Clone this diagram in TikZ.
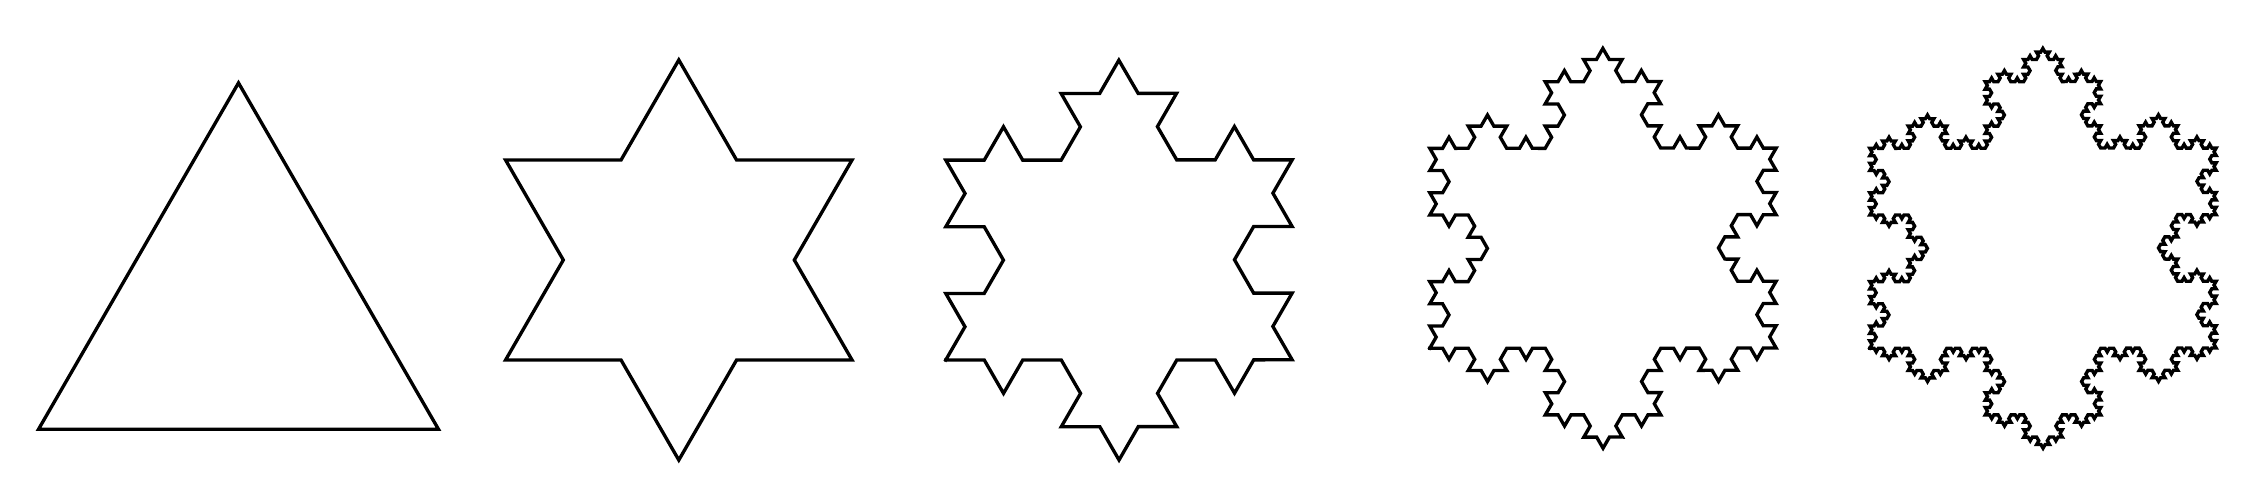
\documentclass[tikz,border=0pt]{standalone}
\usetikzlibrary{decorations.fractals}
\tikzset{
  flake/.style={draw=black, line width=0.95pt, line join=miter, line cap=rect, decoration=Koch snowflake},
}
\begin{document}
\begin{tikzpicture}[x=0.01cm,y=0.01cm]
\useasboundingbox (0,0) rectangle (2252,478);
% iteration 0
\coordinate (t0a) at (38.5,48.7);
\coordinate (t0b) at (238.5,395.1);
\coordinate (t0c) at (438.5,48.7);
\draw[flake] (t0a) -- (t0b) -- (t0c) -- cycle;
% iteration 1 (hexagram)
\coordinate (c1) at (678.8,218);
\draw[flake, shift={(c1)}] (90:200.05) -- (60:115.5) -- (30:200.05) -- (0:115.5) -- (-30:200.05) -- (-60:115.5)
  -- (-90:200.05) -- (-120:115.5) -- (-150:200.05) -- (180:115.5) -- (150:200.05) -- (120:115.5) -- cycle;
% iteration 2
\coordinate (t2a) at (1119-173.25,218-100);
\coordinate (t2b) at (1119,218+200.05);
\coordinate (t2c) at (1119+173.25,218-100);
\draw[flake] decorate{ decorate{ (t2a) -- (t2b) -- (t2c) -- (t2a) }};
% iteration 3
\coordinate (t3a) at (1603-173.25,229.8-100);
\coordinate (t3b) at (1603,229.8+200.05);
\coordinate (t3c) at (1603+173.25,229.8-100);
\draw[flake] decorate{ decorate{ decorate{ (t3a) -- (t3b) -- (t3c) -- (t3a) }}};
% iteration 4
\coordinate (t4a) at (2043-173.25,229.8-100);
\coordinate (t4b) at (2043,229.8+200.05);
\coordinate (t4c) at (2043+173.25,229.8-100);
\draw[flake] decorate{ decorate{ decorate{ decorate{ (t4a) -- (t4b) -- (t4c) -- (t4a) }}}};
\end{tikzpicture}
\end{document}
